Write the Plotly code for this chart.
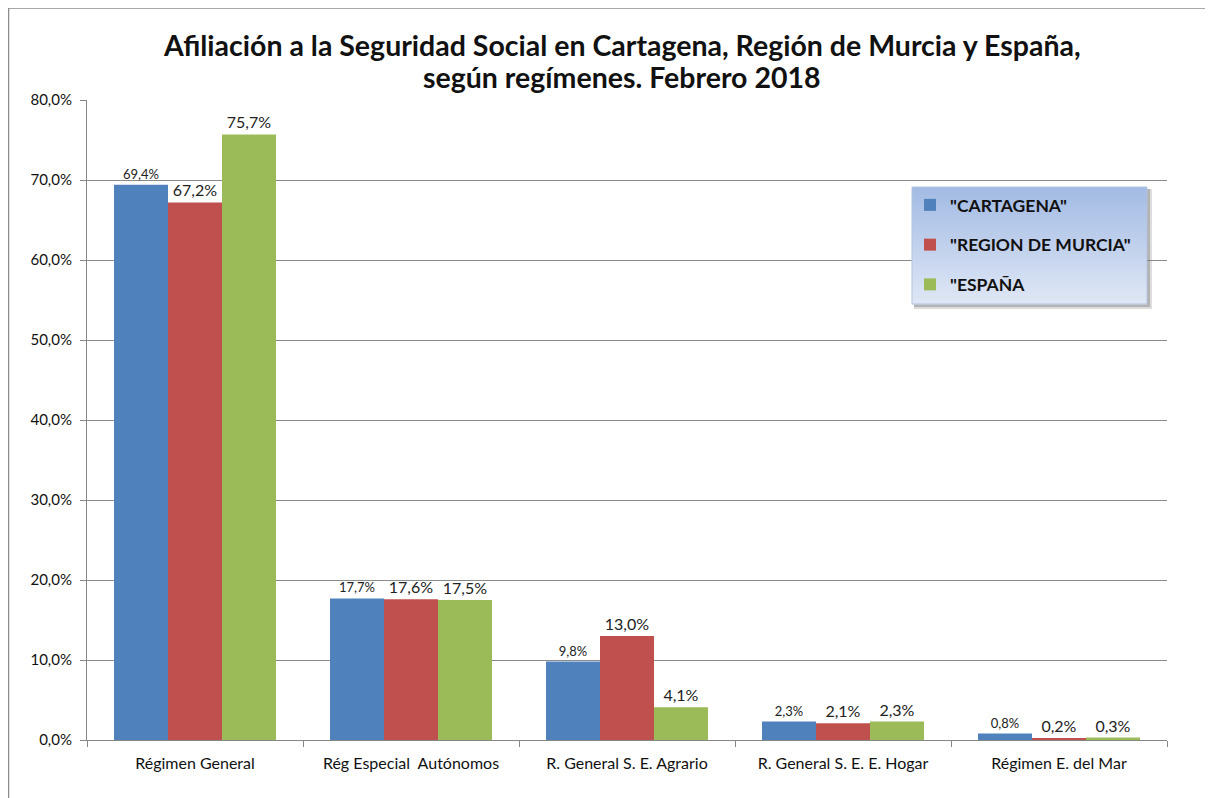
import plotly.graph_objects as go

# Chart data (percent of affiliates by regime)
categories = [
    "Régimen General",
    "Rég Especial  Autónomos",
    "R. General S. E. Agrario",
    "R. General S. E. E. Hogar",
    "Régimen E. del Mar",
]
cartagena = [69.4, 17.7, 9.8, 2.3, 0.8]
region_murcia = [67.2, 17.6, 13.0, 2.1, 0.2]
espana = [75.7, 17.5, 4.1, 2.3, 0.3]

series_names = ['"CARTAGENA"', '"REGION DE MURCIA"', '"ESPAÑA']
y_ticks = [0, 10, 20, 30, 40, 50, 60, 70, 80]
y_tick_text = [f"{v:.1f}%".replace(".", ",") for v in y_ticks]

# the page has an 8px body margin, so work in page pixels and shift
OFF = 8
W, H = 1213 - OFF, 798 - OFF
L, T = 87 - OFF, 100 - OFF
R, B = 1213 - 1167, 798 - 740
PW, PH = W - L - R, H - T - B


def px(x):
    return (x - OFF - L) / PW


def py(y):
    return (H - B - (y - OFF)) / PH


colors = ['#4F81BD', '#C0504D', '#9BBB59']
label_sizes = [13, 16, 16]
font = "Lato, 'Open Sans', Arial, sans-serif"

fig = go.Figure()
for name, vals, col, fs in zip(series_names, [cartagena, region_murcia, espana], colors, label_sizes):
    fig.add_trace(go.Bar(
        x=categories,
        y=vals,
        name=name,
        legendgroup=name,
        marker=dict(color=col, line=dict(width=0)),
        texttemplate='%{y:.1f}%',
        textposition='outside',
        textfont=dict(size=fs, color='#222222', family=font),
        cliponaxis=False,
    ))

# outer chart frame (top and left edges only)
fig.add_shape(type='line', xref='paper', yref='paper',
              x0=px(8), x1=px(1213), y0=py(8), y1=py(8),
              line=dict(color='#8c8c8c', width=1.5), layer='below')
fig.add_shape(type='line', xref='paper', yref='paper',
              x0=px(8.5), x1=px(8.5), y0=py(8), y1=py(800),
              line=dict(color='#8c8c8c', width=1.5), layer='below')

# legend box: soft drop shadow + vertical blue gradient
lx0, lx1, ly0, ly1 = 912, 1147, 187, 304
fig.add_shape(type='rect', xref='paper', yref='paper',
              x0=px(lx0 + 2), x1=px(lx1 + 5), y0=py(ly1 + 5), y1=py(ly0 + 2),
              line=dict(width=0), fillcolor='rgba(120,120,120,0.25)', layer='above')
fig.add_shape(type='rect', xref='paper', yref='paper',
              x0=px(lx0 + 2), x1=px(lx1 + 3), y0=py(ly1 + 3), y1=py(ly0 + 2),
              line=dict(width=0), fillcolor='rgba(100,100,100,0.35)', layer='above')
top_rgb, bot_rgb = (163, 187, 228), (222, 231, 245)
n_strips = 30
for i in range(n_strips):
    t = i / (n_strips - 1)
    c = tuple(round(a + (b - a) * t) for a, b in zip(top_rgb, bot_rgb))
    y_a = ly0 + (ly1 - ly0) * i / n_strips
    y_b = ly0 + (ly1 - ly0) * (i + 1) / n_strips
    fig.add_shape(type='rect', xref='paper', yref='paper',
                  x0=px(lx0), x1=px(lx1), y0=py(y_b + 0.5), y1=py(y_a),
                  line=dict(width=0), fillcolor='rgb(%d,%d,%d)' % c, layer='above')
fig.add_shape(type='rect', xref='paper', yref='paper',
              x0=px(lx0), x1=px(lx1), y0=py(ly1), y1=py(ly0),
              line=dict(color='#b4c3de', width=1), layer='above')

# two-line title
fig.add_annotation(text='Afiliación a la Seguridad Social en Cartagena, Región de Murcia y España,',
                   xref='paper', yref='paper', x=px(622), y=py(45), showarrow=False,
                   xanchor='center', yanchor='middle',
                   font=dict(size=28.5, family=font, color='#111111', weight='bold'))
fig.add_annotation(text='según regímenes. Febrero 2018',
                   xref='paper', yref='paper', x=px(622), y=py(77), showarrow=False,
                   xanchor='center', yanchor='middle',
                   font=dict(size=28.5, family=font, color='#111111', weight='bold'))

fig.update_layout(
    width=W, height=H,
    margin=dict(l=L, r=R, t=T, b=B),
    paper_bgcolor='white', plot_bgcolor='white',
    separators=',.',
    barmode='group',
    bargap=0.25, bargroupgap=0,
    font=dict(family=font, color='#111111'),
    legend=dict(
        x=px(910), y=py(187), xanchor='left', yanchor='top',
        bgcolor='rgba(0,0,0,0)', borderwidth=0,
        font=dict(size=17.5, family=font, color='#111111', weight='bold'),
        tracegroupgap=14, traceorder='grouped',
        itemwidth=30,
    ),
    xaxis=dict(
        showgrid=False, showline=True, linecolor='#868686', linewidth=1,
        ticks='outside', tickson='boundaries', ticklen=6, tickcolor='#868686',
        tickfont=dict(size=16, family=font, color='#111111'),
        ticklabelstandoff=9,
    ),
    yaxis=dict(
        range=[0, 80], tickvals=y_ticks, ticktext=y_tick_text,
        showgrid=True, gridcolor='#8a8a8a', gridwidth=1,
        showline=True, linecolor='#868686', linewidth=1,
        ticks='outside', ticklen=6, tickcolor='#868686',
        tickfont=dict(size=15, family=font, color='#111111'),
        ticklabelstandoff=5,
        zeroline=False,
    ),
)

fig.write_html("out.html")
